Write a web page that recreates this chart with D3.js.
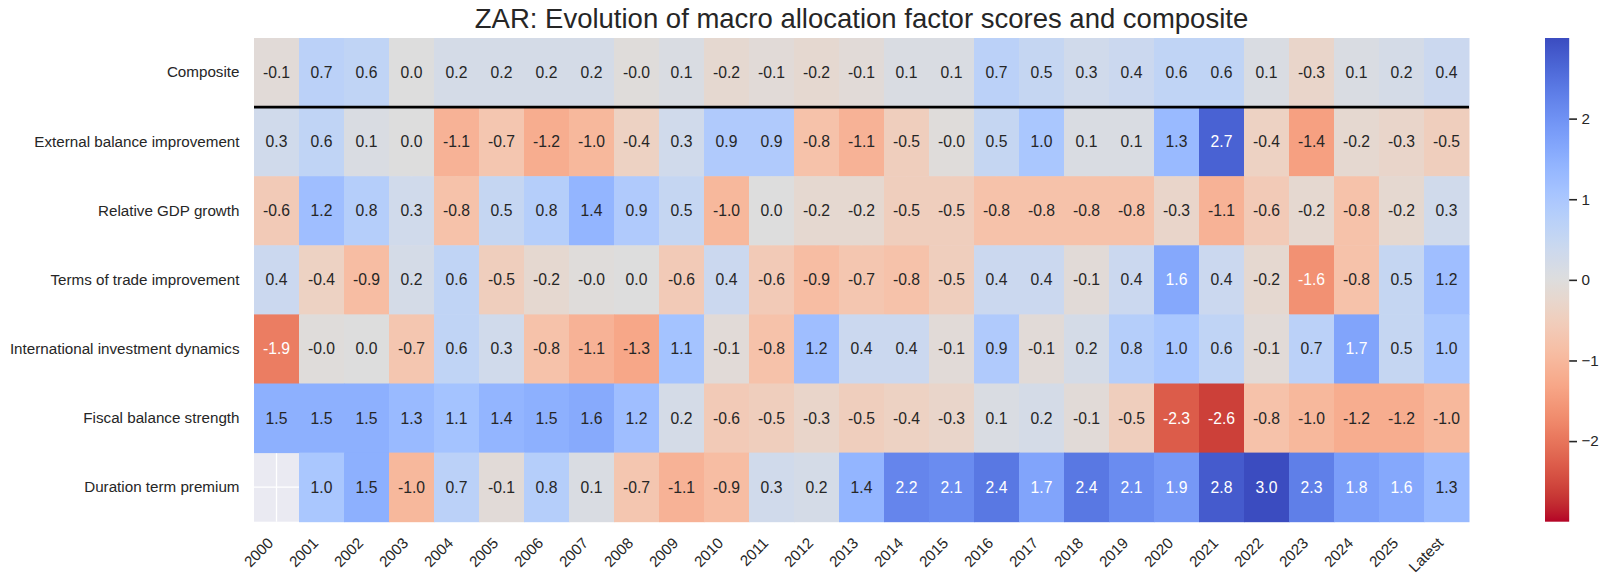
<!DOCTYPE html>
<html>
<head>
<meta charset="utf-8">
<script src="https://cdn.jsdelivr.net/npm/d3@7"></script>
<style>
  body { margin: 0; background: #fff; }
  text { font-family: "Liberation Sans", Arial, sans-serif; }
</style>
</head>
<body>
<svg id="chart" width="1610" height="584"></svg>
<script>
const columns = ["2000", "2001", "2002", "2003", "2004", "2005", "2006", "2007", "2008", "2009",
  "2010", "2011", "2012", "2013", "2014", "2015", "2016", "2017", "2018", "2019",
  "2020", "2021", "2022", "2023", "2024", "2025", "Latest"];

const rowLabels = ["Composite", "External balance improvement", "Relative GDP growth",
  "Terms of trade improvement", "International investment dynamics",
  "Fiscal balance strength", "Duration term premium"];

const composite = [-0.1, 0.7, 0.6, 0.0, 0.2, 0.2, 0.2, 0.2, -0.04, 0.1, -0.2, -0.1, -0.2, -0.1,
  0.1, 0.1, 0.7, 0.5, 0.3, 0.4, 0.6, 0.6, 0.1, -0.3, 0.1, 0.2, 0.4];
const externalBalance = [0.3, 0.6, 0.1, 0.0, -1.1, -0.7, -1.2, -1.0, -0.4, 0.3, 0.9, 0.9, -0.8, -1.1,
  -0.5, -0.04, 0.5, 1.0, 0.1, 0.1, 1.3, 2.7, -0.4, -1.4, -0.2, -0.3, -0.5];
const relativeGdp = [-0.6, 1.2, 0.8, 0.3, -0.8, 0.5, 0.8, 1.4, 0.9, 0.5, -1.0, 0.0, -0.2, -0.2,
  -0.5, -0.5, -0.8, -0.8, -0.8, -0.8, -0.3, -1.1, -0.6, -0.2, -0.8, -0.2, 0.3];
const termsOfTrade = [0.4, -0.4, -0.9, 0.2, 0.6, -0.5, -0.2, -0.04, 0.0, -0.6, 0.4, -0.6, -0.9, -0.7,
  -0.8, -0.5, 0.4, 0.4, -0.1, 0.4, 1.63, 0.4, -0.2, -1.63, -0.8, 0.5, 1.2];
const intlInvestment = [-1.9, -0.04, 0.0, -0.7, 0.6, 0.3, -0.8, -1.1, -1.3, 1.1, -0.1, -0.8, 1.2, 0.4,
  0.4, -0.1, 0.9, -0.1, 0.2, 0.8, 1.0, 0.6, -0.1, 0.7, 1.7, 0.5, 1.0];
const fiscalBalance = [1.5, 1.5, 1.5, 1.3, 1.1, 1.4, 1.5, 1.6, 1.2, 0.2, -0.6, -0.5, -0.3, -0.5,
  -0.4, -0.3, 0.1, 0.2, -0.1, -0.5, -2.3, -2.6, -0.8, -1.0, -1.2, -1.2, -1.0];
const durationPremium = [null, 1.0, 1.5, -1.0, 0.7, -0.1, 0.8, 0.1, -0.7, -1.1, -0.9, 0.3, 0.2, 1.4,
  2.2, 2.1, 2.4, 1.7, 2.4, 2.1, 1.9, 2.8, 3.0, 2.3, 1.8, 1.63, 1.3];

const colorbarTicks = [-2, -1, 0, 1, 2];

// matplotlib "coolwarm" control points, used reversed
const coolwarm = [
  [0.2298, 0.2987, 0.7537], [0.2662, 0.3531, 0.8015], [0.3039, 0.4065, 0.8450], [0.3428, 0.4588, 0.8837],
  [0.3830, 0.5094, 0.9174], [0.4244, 0.5581, 0.9456], [0.4667, 0.6046, 0.9682], [0.5096, 0.6483, 0.9848],
  [0.5530, 0.6889, 0.9954], [0.5963, 0.7261, 0.9998], [0.6392, 0.7596, 0.9982], [0.6813, 0.7890, 0.9904],
  [0.7222, 0.8140, 0.9766], [0.7615, 0.8343, 0.9569], [0.7987, 0.8498, 0.9317], [0.8335, 0.8602, 0.9011],
  [0.8654, 0.8654, 0.8654], [0.8978, 0.8489, 0.8209], [0.9241, 0.8274, 0.7745], [0.9445, 0.8009, 0.7267],
  [0.9589, 0.7698, 0.6780], [0.9673, 0.7341, 0.6288], [0.9700, 0.6943, 0.5794], [0.9668, 0.6504, 0.5303],
  [0.9580, 0.6028, 0.4818], [0.9437, 0.5518, 0.4342], [0.9239, 0.4973, 0.3880], [0.8990, 0.4396, 0.3432],
  [0.8692, 0.3783, 0.3003], [0.8346, 0.3129, 0.2593], [0.7956, 0.2413, 0.2205], [0.7525, 0.1572, 0.1841],
  [0.7057, 0.0156, 0.1502]
].map(c => d3.rgb(c[0] * 255, c[1] * 255, c[2] * 255).formatHex());

const matrix = [composite, externalBalance, relativeGdp, termsOfTrade, intlInvestment, fiscalBalance, durationPremium];

const plotLeft = 254, plotRight = 1469, plotTop = 38, plotBottom = 521.7;
const labelSize = "15.2px";

const svg = d3.select("#chart");

const x = d3.scaleBand().domain(columns).range([plotLeft, plotRight]);
const y = d3.scaleBand().domain(rowLabels).range([plotTop, plotBottom]);

const interp = d3.piecewise(d3.interpolateRgb, coolwarm.slice().reverse());
const color = d3.scaleSequential(interp).domain([-3, 3]);

function luminance(c) {
  const rgb = d3.rgb(c);
  const lin = [rgb.r, rgb.g, rgb.b].map(v => {
    v = v / 255;
    return v <= 0.03928 ? v / 12.92 : Math.pow((v + 0.055) / 1.055, 2.4);
  });
  return 0.2126 * lin[0] + 0.7152 * lin[1] + 0.0722 * lin[2];
}

// axes background and grid (only visible where a cell is missing)
svg.append("rect")
  .attr("x", plotLeft).attr("y", plotTop)
  .attr("width", plotRight - plotLeft).attr("height", plotBottom - plotTop)
  .attr("fill", "#eaeaf2");

const grid = svg.append("g").attr("stroke", "#fff").attr("stroke-width", 1.3);
grid.selectAll("line.gx").data(columns).join("line")
  .attr("x1", d => x(d) + x.bandwidth() / 2).attr("x2", d => x(d) + x.bandwidth() / 2)
  .attr("y1", plotTop).attr("y2", plotBottom);
grid.selectAll("line.gy").data(rowLabels).join("line")
  .attr("y1", d => y(d) + y.bandwidth() / 2).attr("y2", d => y(d) + y.bandwidth() / 2)
  .attr("x1", plotLeft).attr("x2", plotRight);

const cells = [];
matrix.forEach((row, r) => row.forEach((v, c) => {
  if (v !== null) cells.push({ row: rowLabels[r], col: columns[c], value: v });
}));

svg.append("g").selectAll("rect").data(cells).join("rect")
  .attr("x", d => x(d.col))
  .attr("y", d => y(d.row))
  .attr("width", x.bandwidth() + 0.5)
  .attr("height", y.bandwidth() + 0.5)
  .attr("fill", d => color(d.value));

svg.append("g").selectAll("text").data(cells).join("text")
  .attr("x", d => x(d.col) + x.bandwidth() / 2)
  .attr("y", d => y(d.row) + y.bandwidth() / 2)
  .attr("text-anchor", "middle")
  .attr("dominant-baseline", "central")
  .attr("font-size", "15.7px")
  .attr("fill", d => luminance(color(d.value)) > 0.408 ? "#262626" : "#ffffff")
  .text(d => d.value.toFixed(1));

// separator under the composite row
svg.append("line")
  .attr("x1", plotLeft).attr("x2", plotRight)
  .attr("y1", y(rowLabels[1])).attr("y2", y(rowLabels[1]))
  .attr("stroke", "#000").attr("stroke-width", 2.6);

// y axis labels
const yAxis = svg.append("g")
  .attr("transform", `translate(${plotLeft},0)`)
  .call(d3.axisLeft(y).tickSize(0).tickPadding(14.5));
yAxis.select(".domain").remove();
yAxis.selectAll("text")
  .attr("font-size", labelSize)
  .attr("fill", "#262626")
  .style("font-family", "'Liberation Sans', Arial, sans-serif");

// x axis labels, rotated 45 degrees
svg.append("g").selectAll("text").data(columns).join("text")
  .attr("transform", d => `translate(${x(d) + x.bandwidth() / 2 - 2.2},${544}) rotate(-45)`)
  .attr("text-anchor", "end")
  .attr("font-size", labelSize)
  .attr("fill", "#262626")
  .text(d => d);

// colorbar
const cbLeft = 1545, cbWidth = 24.2;
const cbScale = d3.scaleLinear().domain([-3, 3]).range([plotBottom, plotTop]);
const defs = svg.append("defs");
const grad = defs.append("linearGradient")
  .attr("id", "cbgrad").attr("x1", 0).attr("x2", 0).attr("y1", 1).attr("y2", 0);
d3.range(0, 1.0001, 0.02).forEach(t => {
  grad.append("stop").attr("offset", t).attr("stop-color", color(-3 + 6 * t));
});
svg.append("rect")
  .attr("x", cbLeft).attr("y", plotTop)
  .attr("width", cbWidth).attr("height", plotBottom - plotTop)
  .attr("fill", "url(#cbgrad)");

const cbAxis = svg.append("g")
  .attr("transform", `translate(${cbLeft + cbWidth},0)`)
  .call(d3.axisRight(cbScale).tickValues(colorbarTicks).tickFormat(d3.format("d")).tickSize(7.8).tickPadding(4.5));
cbAxis.select(".domain").remove();
cbAxis.selectAll("line").attr("stroke", "#262626").attr("stroke-width", 1.6);
cbAxis.selectAll("text")
  .attr("font-size", labelSize)
  .attr("fill", "#262626")
  .style("font-family", "'Liberation Sans', Arial, sans-serif");

// title
svg.append("text")
  .attr("x", (plotLeft + plotRight) / 2)
  .attr("y", 28)
  .attr("text-anchor", "middle")
  .attr("font-size", "27.5px")
  .attr("fill", "#262626")
  .text("ZAR: Evolution of macro allocation factor scores and composite");
</script>
</body>
</html>
